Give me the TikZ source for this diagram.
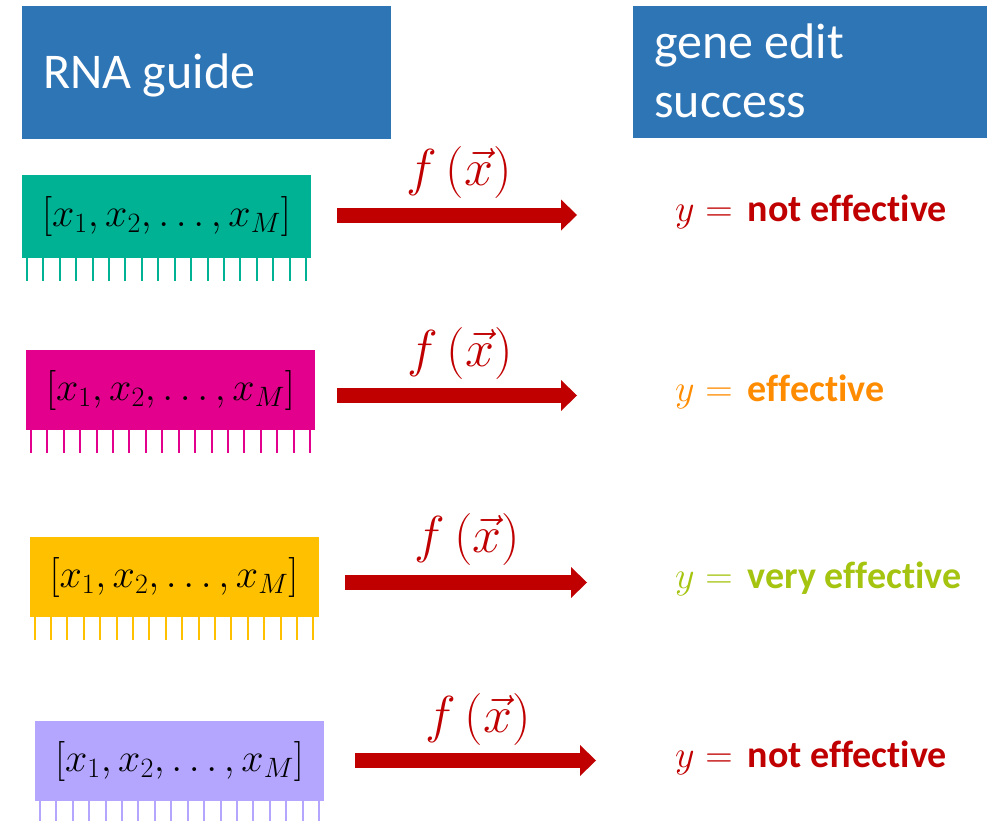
\RequirePackage{fix-cm}
\documentclass[tikz,border=0pt]{standalone}
\usepackage{amsmath}
\usepackage{fontspec}
\setmainfont{Carlito}[Ligatures=NoCommon]
\usetikzlibrary{arrows.meta}
\definecolor{hdrblue}{HTML}{2E75B6}
\definecolor{darkred}{HTML}{C00000}
\definecolor{boxteal}{HTML}{00B294}
\definecolor{boxpink}{HTML}{E3008C}
\definecolor{boxyellow}{HTML}{FFC000}
\definecolor{boxpurple}{HTML}{B4A5FF}
\definecolor{resorange}{HTML}{FF8C00}
\definecolor{resgreen}{HTML}{A4C410}
\begin{document}
\begin{tikzpicture}[x=1pt,y=-1pt,
  hdr/.style={fill=hdrblue, inner sep=0pt, outer sep=0pt, anchor=north west},
  hdrtxt/.style={text=white, inner sep=0pt, anchor=base west, align=left,
    font=\fontsize{50}{59}\selectfont},
  seqbox/.style={inner sep=0pt, outer sep=0pt, minimum width=289pt,
    font=\fontsize{40}{48}\selectfont},
  tickln/.style={line width=2pt},
  fxarrow/.style={draw=darkred, line width=15pt,
    -{Triangle[length=16pt,width=31pt,line width=0pt]}},
  fxlbl/.style={text=darkred, inner sep=0pt, font=\fontsize{52}{60}\selectfont},
  reslbl/.style={inner sep=0pt, anchor=base west, font=\fontsize{38}{44}\selectfont}
]
\useasboundingbox (0,0) rectangle (995,821);

% headers
\node[hdr, minimum width=369pt, minimum height=133pt] (h1) at (22,6) {};
\node[hdr, minimum width=354pt, minimum height=132pt] (h2) at (633,6) {};
\node[hdrtxt] (t1) at (43,89) {RNA guide};
\node[hdrtxt] (t2) at (654,118) {gene edit\\success};

% sequence boxes
\node[seqbox, fill=boxteal,   minimum height=83pt] (b1) at (166.5,216.5) {$[x_1, x_2, \dots, x_M]$};
\node[seqbox, fill=boxpink,   minimum height=80pt] (b2) at (170.5,390)   {$[x_1, x_2, \dots, x_M]$};
\node[seqbox, fill=boxyellow, minimum height=80pt] (b3) at (174,577)     {$[x_1, x_2, \dots, x_M]$};
\node[seqbox, fill=boxpurple, minimum height=80pt] (b4) at (179.5,761)   {$[x_1, x_2, \dots, x_M]$};

% ticks
\foreach \n/\col in {1/boxteal,2/boxpink,3/boxyellow,4/boxpurple}{
  \foreach \k in {0,...,17}{
    \pgfmathsetmacro{\dx}{5+\k*16.41}
    \draw[tickln, draw=\col] ([xshift=\dx pt]b\n.south west) -- ++(0,23);
  }
}

% arrows
\coordinate (s1) at (337,215);   \coordinate (e1) at (577,215);
\coordinate (s2) at (337,395.5); \coordinate (e2) at (577,395.5);
\coordinate (s3) at (345,582.5); \coordinate (e3) at (587,582.5);
\coordinate (s4) at (355,760.5); \coordinate (e4) at (596,760.5);
\foreach \n in {1,...,4}{ \draw[fxarrow] (s\n) -- (e\n); }

\node[fxlbl] (f1) at (459,173) {$f\,(\vec{x})$};
\node[fxlbl] (f2) at (460,353.5) {$f\,(\vec{x})$};
\node[fxlbl] (f3) at (467.5,539.5) {$f\,(\vec{x})$};
\node[fxlbl] (f4) at (478,719) {$f\,(\vec{x})$};

% results
\node[reslbl, text=darkred]   (r1) at (675,222)   {$y =$\hspace{0.4em}\textbf{not effective}};
\node[reslbl, text=resorange] (r2) at (675,401.5) {$y =$\hspace{0.4em}\textbf{effective}};
\node[reslbl, text=resgreen]  (r3) at (675,588)   {$y =$\hspace{0.4em}\textbf{very effective}};
\node[reslbl, text=darkred]   (r4) at (675,767.5) {$y =$\hspace{0.4em}\textbf{not effective}};
\end{tikzpicture}
\end{document}
